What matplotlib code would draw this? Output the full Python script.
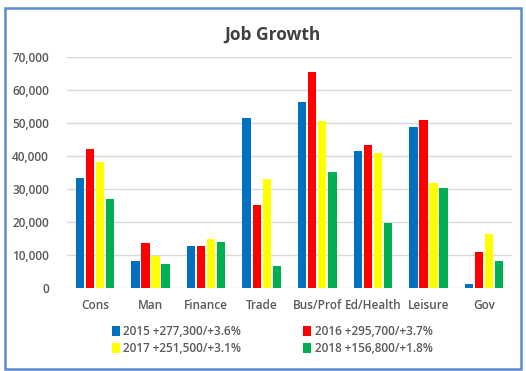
import matplotlib
matplotlib.use("Agg")
import matplotlib.pyplot as plt
import numpy as np
from matplotlib.patches import Rectangle
from matplotlib.ticker import FuncFormatter

categories = ["Cons", "Man", "Finance", "Trade", "Bus/Prof", "Ed/Health", "Leisure", "Gov"]
series_labels = ["2015 +277,300/+3.6%", "2016 +295,700/+3.7%",
                 "2017 +251,500/+3.1%", "2018 +156,800/+1.8%"]
v2015 = [33300, 8100, 12800, 51500, 56500, 41600, 48900, 1300]
v2016 = [42000, 13500, 12800, 25300, 65400, 43200, 50800, 10800]
v2017 = [38300, 9800, 14800, 32900, 50600, 40900, 31700, 16400]
v2018 = [26900, 7300, 13900, 6600, 35100, 19700, 30200, 8100]
colors = ["#0070C0", "#FF0000", "#FFFF00", "#00B050"]
yticks = [0, 10000, 20000, 30000, 40000, 50000, 60000, 70000]

plt.rcParams['font.family'] = ['Open Sans', 'DejaVu Sans']
txt = "#595959"

fig = plt.figure(figsize=(5.26, 3.71), dpi=100)
ax = fig.add_axes([67/526, 1-288/371, (512-67)/526, (288-57)/371])

x = np.arange(len(categories))
step = 0.18
width = 0.15
series = [v2015, v2016, v2017, v2018]
bars = []
for i, (vals, c, lab) in enumerate(zip(series, colors, series_labels)):
    b = ax.bar(x + (i - 1.5) * step, vals, width, color=c, label=lab, zorder=3)
    bars.append(b)

ax.set_xlim(-0.5, len(categories) - 0.5)
ax.set_ylim(0, 70000)
ax.set_yticks(yticks)
ax.yaxis.set_major_formatter(FuncFormatter(lambda v, p: f"{int(v):,}"))
ax.grid(axis='y', color='#D9D9D9', linewidth=1, zorder=0)
for s in ax.spines.values():
    s.set_visible(False)
ax.tick_params(axis='both', length=0, colors=txt, labelsize=8.5)
ax.tick_params(axis='y', pad=13)
ax.tick_params(axis='x', pad=8)
ax.set_xticks(x)
ax.set_xticklabels(categories)
for lbl in ax.get_yticklabels() + ax.get_xticklabels():
    lbl.set_fontweight('semibold')
    lbl.set_color(txt)

fig.text(272/526, 1-35/371, "Job Growth", ha='center', va='center',
         fontsize=12.5, fontweight='bold', color='#404040')

order = [0, 2, 1, 3]
leg = fig.legend([bars[i] for i in order], [series_labels[i] for i in order],
                 ncol=2, loc='center', bbox_to_anchor=(272/526, 1-340/371),
                 frameon=False, fontsize=8.5, handlelength=0.7, handleheight=0.9,
                 handletextpad=0.3, columnspacing=5.2, labelspacing=0.35)
for t in leg.get_texts():
    t.set_color(txt)
    t.set_fontweight('semibold')

fig.patches.append(Rectangle((5/526, 2/371), (521-5)/526, (363-2)/371,
                             transform=fig.transFigure, fill=False,
                             edgecolor='#5B8BD0', linewidth=1.8))

fig.savefig("out.png", dpi=100)
